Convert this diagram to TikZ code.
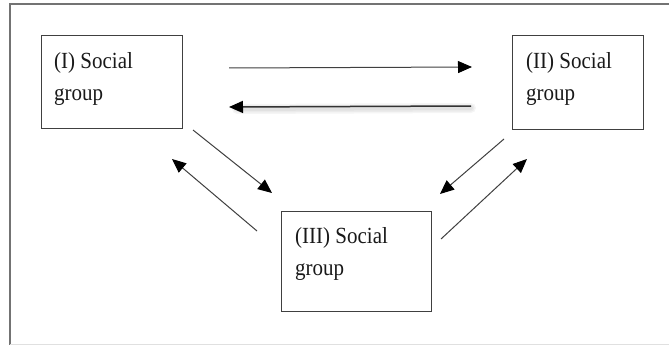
\documentclass[tikz,border=0pt]{standalone}
\usepackage{fontspec}
\setmainfont{Liberation Serif}
\usetikzlibrary{arrows.meta}
\begin{document}
\begin{tikzpicture}[x=1pt,y=-1pt,
  box/.style={draw=black!75, line width=1pt, minimum width=#1, inner sep=0pt},
  lbl/.style={anchor=north west, inner sep=0pt, align=left, text=black!90, yscale=1.1,
    font=\fontsize{21}{29}\selectfont},
  arr/.style={draw=black!75, line width=1pt, -{Triangle[length=14pt,width=12pt,fill=black,color=black]}},
  arrb/.style={draw=black!80, line width=1.5pt, -{Triangle[length=14pt,width=12pt,fill=black,color=black]}}]
\useasboundingbox (0,0) rectangle (669,345);
\fill[white] (0,0) rectangle (669,345);
% outer frame
\draw[black!55, line width=1.2pt] (669,4) -- (10,4) -- (10,345);
\draw[black!12, line width=1pt] (10,344) -- (669,344);
% boxes
\node[box=141pt, minimum height=92pt] (b1) at (111.5,82) {};
\node[box=131pt, minimum height=93pt] (b2) at (577.5,82.5) {};
\node[box=150pt, minimum height=100pt] (b3) at (356,261) {};
\node[lbl] (t1) at (54,52) {(I) Social\\group};
\node[lbl] (t2) at (526,52) {(II) Social\\group};
\node[lbl] (t3) at (295,227) {(III) Social\\group};
% arrow end points
\coordinate (a1s) at (229,68);  \coordinate (a1e) at (472,67);
\coordinate (a2s) at (471,106); \coordinate (a2e) at (229,107);
\coordinate (a3s) at (193,130); \coordinate (a3e) at (272,193);
\coordinate (a4s) at (257,231); \coordinate (a4e) at (172,159);
\coordinate (a5s) at (504,139); \coordinate (a5e) at (440,194);
\coordinate (a6s) at (441,239); \coordinate (a6e) at (527,159);
% arrows
\draw[arr] (a1s) -- (a1e);
\foreach \w in {10,7,4} {
  \draw[black, opacity=0.04, line width=\w pt, line cap=round]
    ([yshift=-2pt]a2s) -- ([xshift=8pt,yshift=-2pt]a2e);
}
\draw[arrb] (a2s) -- (a2e);
\draw[arr] (a3s) -- (a3e);
\draw[arr] (a4s) -- (a4e);
\draw[arr] (a5s) -- (a5e);
\draw[arr] (a6s) -- (a6e);
\end{tikzpicture}
\end{document}
